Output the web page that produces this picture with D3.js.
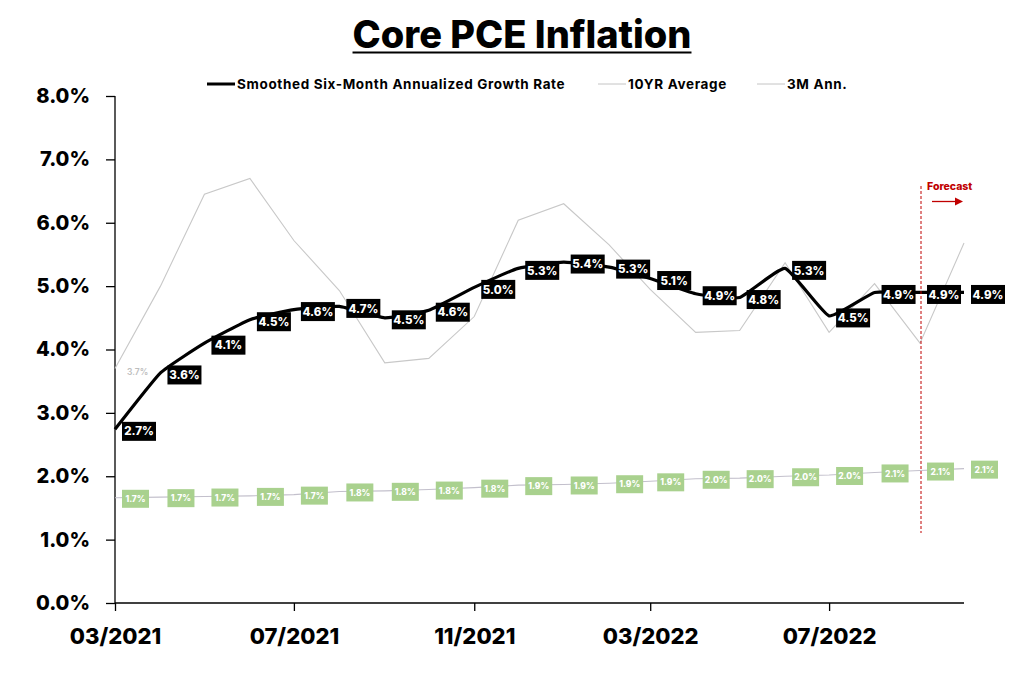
<!DOCTYPE html>
<html lang="en">
<head>
    <meta charset="UTF-8">
    <title>Core PCE Inflation</title>
    <script src="https://cdn.jsdelivr.net/npm/d3@7"></script>
    <style>
        body { margin: 0; background: #ffffff; }
        svg text { font-family: Inter, 'Open Sans', sans-serif; }
    </style>
</head>
<body>

    <div id="canvas"></div>

    <script>

        // monthly observations, 03/2021 .. 10/2022
        const months = ['2021-03', '2021-04', '2021-05', '2021-06', '2021-07', '2021-08', '2021-09',
            '2021-10', '2021-11', '2021-12', '2022-01', '2022-02', '2022-03', '2022-04', '2022-05',
            '2022-06', '2022-07', '2022-08', '2022-09', '2022-10'];

        const smoothed = [2.74, 3.63, 4.1, 4.47, 4.63, 4.68, 4.5, 4.62, 4.98, 5.28, 5.38, 5.3,
            5.12, 4.88, 4.82, 5.28, 4.53, 4.9, 4.9, 4.9];

        const tenYearAvg = [1.66, 1.67, 1.68, 1.69, 1.71, 1.76, 1.77, 1.79, 1.82, 1.86, 1.87, 1.89,
            1.92, 1.96, 1.97, 2.0, 2.02, 2.06, 2.09, 2.12];

        const threeMonthAnn = [3.7, 5.0, 6.45, 6.7, 5.72, 4.93, 3.79, 3.86, 4.52, 6.04, 6.3, 5.65,
            4.95, 4.27, 4.3, 5.37, 4.27, 5.04, 4.1, 5.68];

        const xTickLabels = ['2021-03', '2021-07', '2021-11', '2022-03', '2022-07'];
        const yTicks = [0, 1, 2, 3, 4, 5, 6, 7, 8];
        const forecastStart = '2022-09';

    </script>

    <script>

        const width = 1029;
        const height = 682;
        const plotLeft = 115, plotRight = 964, plotTop = 96, plotBottom = 603;

        const parse = d3.timeParse('%Y-%m');
        const dates = months.map(parse);

        const x = d3.scaleTime()
            .domain([dates[0], dates[dates.length - 1]])
            .range([plotLeft, plotRight]);

        const y = d3.scaleLinear()
            .domain([0, 8])
            .range([plotBottom, plotTop]);

        const svg = d3.select('#canvas')
            .append('svg')
            .attr('width', width)
            .attr('height', height);

        // title
        const title = svg.append('text')
            .attr('x', 522)
            .attr('y', 48)
            .attr('text-anchor', 'middle')
            .attr('font-size', 38)
            .attr('font-weight', 800)
            .attr('fill', '#000')
            .text('Core PCE Inflation');

        const tb = title.node().getBBox();
        svg.append('line')
            .attr('x1', tb.x).attr('x2', tb.x + tb.width)
            .attr('y1', 52.5).attr('y2', 52.5)
            .attr('stroke', '#000')
            .attr('stroke-width', 2.2);

        // legend
        const legendItems = [
            { label: 'Smoothed Six-Month Annualized Growth Rate', x: 207, color: '#000', w: 3 },
            { label: '10YR Average', x: 598, color: '#c4c4c4', w: 1 },
            { label: '3M Ann.', x: 757, color: '#c4c4c4', w: 1 }
        ];

        const legend = svg.append('g');
        legendItems.forEach((item) => {
            legend.append('line')
                .attr('x1', item.x).attr('x2', item.x + 28)
                .attr('y1', 84).attr('y2', 84)
                .attr('stroke', item.color)
                .attr('stroke-width', item.w);
            legend.append('text')
                .attr('x', item.x + 30)
                .attr('y', 89)
                .attr('font-size', 13.5)
                .attr('font-weight', 700)
                .attr('letter-spacing', 0.65)
                .attr('fill', '#000')
                .text(item.label);
        });

        // axes
        const yAxis = d3.axisLeft(y)
            .tickValues(yTicks)
            .tickSize(9)
            .tickPadding(16)
            .tickFormat((d) => d.toFixed(1) + '%');

        const yG = svg.append('g')
            .attr('transform', `translate(${plotLeft},0)`)
            .call(yAxis);

        yG.select('.domain').attr('stroke', '#000').attr('stroke-width', 1.3)
            .attr('d', `M0,${plotTop}V${plotBottom}`);
        yG.selectAll('.tick line').attr('stroke', '#000').attr('stroke-width', 1.3);
        yG.selectAll('.tick text')
            .attr('font-size', 20)
            .attr('font-weight', 800)
            .attr('fill', '#000')
            .attr('font-family', 'Inter, sans-serif');

        const xAxis = d3.axisBottom(x)
            .tickValues(xTickLabels.map(parse))
            .tickSize(8)
            .tickPadding(17)
            .tickFormat(d3.timeFormat('%m/%Y'));

        const xG = svg.append('g')
            .attr('transform', `translate(0,${plotBottom})`)
            .call(xAxis);

        xG.select('.domain').attr('stroke', '#000').attr('stroke-width', 1.3)
            .attr('d', `M${plotLeft},0H${plotRight}`);
        xG.selectAll('.tick line').attr('stroke', '#000').attr('stroke-width', 1.3);
        xG.selectAll('.tick text')
            .attr('font-size', 22)
            .attr('font-weight', 800)
            .attr('fill', '#000')
            .attr('font-family', 'Inter, sans-serif');

        // series
        const rows = (values) => values.map((v, i) => ({ date: dates[i], value: v }));

        const straight = d3.line()
            .x((d) => x(d.date))
            .y((d) => y(d.value));

        const smooth = d3.line()
            .x((d) => x(d.date))
            .y((d) => y(d.value))
            .curve(d3.curveCardinal.tension(0.6));

        svg.append('path')
            .datum(rows(threeMonthAnn))
            .attr('d', straight)
            .attr('fill', 'none')
            .attr('stroke', '#c8c8c8')
            .attr('stroke-width', 1.1);

        svg.append('path')
            .datum(rows(tenYearAvg))
            .attr('d', straight)
            .attr('fill', 'none')
            .attr('stroke', '#c3c0cc')
            .attr('stroke-width', 1.1);

        svg.append('path')
            .datum(rows(smoothed))
            .attr('d', smooth)
            .attr('fill', 'none')
            .attr('stroke', '#000')
            .attr('stroke-width', 3.2)
            .attr('stroke-linejoin', 'round');

        // 3M label on first point only
        svg.append('text')
            .attr('x', x(dates[0]) + 12)
            .attr('y', y(threeMonthAnn[0]) + 6)
            .attr('font-size', 8.5)
            .attr('font-weight', 600)
            .attr('fill', '#bdbdbd')
            .text(threeMonthAnn[0].toFixed(1) + '%');

        // data label boxes
        const addLabels = (values, opts) => {
            const g = svg.append('g');
            const items = g.selectAll('g')
                .data(rows(values))
                .enter()
                .append('g')
                .attr('transform', (d) => `translate(${x(d.date) + opts.dx},${y(d.value) + opts.dy})`);

            items.append('rect')
                .attr('x', 0)
                .attr('y', -opts.h / 2)
                .attr('width', opts.w)
                .attr('height', opts.h)
                .attr('fill', opts.fill);

            items.append('text')
                .attr('x', opts.w / 2)
                .attr('y', opts.fs * 0.36)
                .attr('text-anchor', 'middle')
                .attr('font-size', opts.fs)
                .attr('font-weight', 800)
                .attr('fill', '#fff')
                .text((d) => d.value.toFixed(1) + '%');
        };

        addLabels(tenYearAvg, { dx: 7, dy: 1, w: 27, h: 18, fill: '#a9d18e', fs: 8.5 });
        addLabels(smoothed, { dx: 7, dy: 2, w: 34, h: 19, fill: '#000', fs: 11.5 });

        // forecast marker
        const fx = x(parse(forecastStart)) + 1;
        svg.append('line')
            .attr('x1', fx).attr('x2', fx)
            .attr('y1', 186).attr('y2', 533)
            .attr('stroke', '#c00000')
            .attr('stroke-width', 1)
            .attr('stroke-dasharray', '3,2');

        svg.append('text')
            .attr('x', fx + 6)
            .attr('y', 190)
            .attr('font-size', 10.5)
            .attr('font-weight', 800)
            .attr('fill', '#c00000')
            .text('Forecast');

        svg.append('line')
            .attr('x1', fx + 11).attr('x2', fx + 36)
            .attr('y1', 201.5).attr('y2', 201.5)
            .attr('stroke', '#c00000')
            .attr('stroke-width', 1.3);

        svg.append('path')
            .attr('d', `M${fx + 34},197.5L${fx + 42},201.5L${fx + 34},205.5Z`)
            .attr('fill', '#c00000');

    </script>

</body>
</html>
